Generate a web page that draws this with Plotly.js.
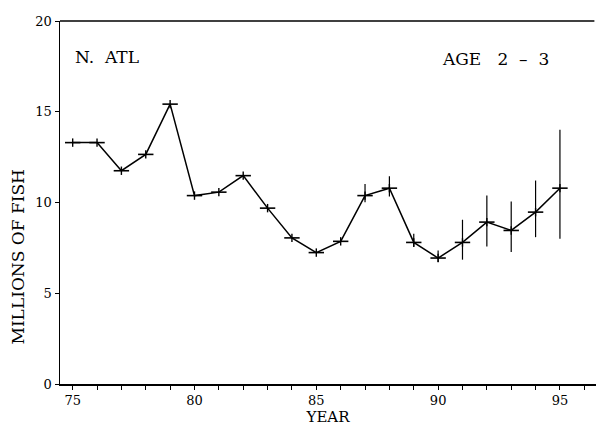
<!DOCTYPE html>
<html>
<head>
<meta charset="utf-8">
<script src="https://cdn.plot.ly/plotly-3.0.1.min.js"></script>
<style>
  html, body { margin: 0; padding: 0; background: #fff; overflow: hidden; }
  #chart { width: 596px; height: 428px; }
</style>
</head>
<body>
<div id="chart"></div>
<script>
// Data
const years = [75, 76, 77, 78, 79, 80, 81, 82, 83, 84, 85, 86, 87, 88, 89, 90, 91, 92, 93, 94, 95];
const fish  = [13.3, 13.3, 11.75, 12.65, 15.42, 10.38, 10.57, 11.48, 9.69, 8.05, 7.24, 7.86,
               10.38, 10.79, 7.8, 6.94, 7.8, 8.92, 8.46, 9.47, 10.79];
const errPlus  = [0, 0, 0, 0, 0, 0, 0, 0, 0, 0, 0, 0, 0.64, 0.66, 0.48, 0.42, 1.25, 1.46, 1.59, 1.74, 3.22];
const errMinus = [0, 0, 0, 0, 0, 0, 0, 0, 0, 0, 0, 0, 0.36, 0.46, 0.25, 0.22, 0.95, 1.34, 1.19, 1.38, 2.79];
const xTickVals = [75, 76, 77, 78, 79, 80, 81, 82, 83, 84, 85, 86, 87, 88, 89, 90, 91, 92, 93, 94, 95, 96];
const xTickText = ['75', '', '', '', '', '80', '', '', '', '', '85', '', '', '', '', '90', '', '', '', '', '95', ''];
const yTickVals = [0, 5, 10, 15, 20];

const FONT = 'DejaVu Serif, Liberation Serif, serif';

const mainTrace = {
  x: years,
  y: fish,
  type: 'scatter',
  mode: 'lines+markers',
  line: { color: '#000', width: 1.5 },
  marker: { symbol: 'line-ew-open', size: 11, color: '#000', line: { color: '#000', width: 1.6 } },
  error_y: {
    type: 'data',
    symmetric: false,
    array: errPlus,
    arrayminus: errMinus,
    color: '#000',
    thickness: 1.2,
    width: 0
  },
  hoverinfo: 'x+y'
};

const tickTrace = {
  x: years,
  y: fish,
  type: 'scatter',
  mode: 'markers',
  marker: { symbol: 'line-ns-open', size: 6, color: '#000', line: { color: '#000', width: 1.4 } },
  hoverinfo: 'skip'
};

const layout = {
  width: 596,
  height: 428,
  margin: { l: 60, r: 0, t: 21, b: 44, pad: 0 },
  paper_bgcolor: '#fff',
  plot_bgcolor: '#fff',
  showlegend: false,
  font: { family: FONT, color: '#000', size: 13 },
  xaxis: {
    range: [74.48, 96.48],
    tickmode: 'array',
    tickvals: xTickVals,
    ticktext: xTickText,
    ticks: 'outside',
    ticklen: 4,
    tickwidth: 1,
    tickcolor: '#000',
    showline: true,
    linecolor: '#000',
    linewidth: 1.5,
    showgrid: false,
    zeroline: false,
    tickfont: { family: FONT, size: 13, color: '#000' },
    title: { text: 'YEAR', font: { family: FONT, size: 15, color: '#000' }, standoff: 4 }
  },
  yaxis: {
    range: [0, 20],
    tickmode: 'array',
    tickvals: yTickVals,
    ticks: 'outside',
    ticklen: 4,
    tickwidth: 1,
    tickcolor: '#000',
    showline: true,
    linecolor: '#000',
    linewidth: 1.5,
    showgrid: false,
    zeroline: false,
    tickfont: { family: FONT, size: 13, color: '#000' }
  },
  shapes: [
    {
      type: 'line', xref: 'paper', yref: 'paper',
      x0: 0, x1: 0.997, y0: 1, y1: 1,
      line: { color: '#000', width: 1.5 }
    }
  ],
  annotations: [
    {
      text: 'MILLIONS OF FISH',
      xref: 'paper', yref: 'paper',
      x: -0.078, y: 0.349,
      xanchor: 'center', yanchor: 'middle',
      textangle: -90,
      showarrow: false,
      font: { family: FONT, size: 17, color: '#000' }
    },
    {
      text: 'N.  ATL',
      xref: 'paper', yref: 'paper',
      x: 0.024, y: 0.900,
      xanchor: 'left', yanchor: 'middle',
      showarrow: false,
      font: { family: FONT, size: 17, color: '#000' }
    },
    {
      text: 'AGE   2  \u2013  3',
      xref: 'paper', yref: 'paper',
      x: 0.916, y: 0.894,
      xanchor: 'right', yanchor: 'middle',
      showarrow: false,
      font: { family: FONT, size: 17, color: '#000' }
    }
  ]
};

Plotly.newPlot('chart', [mainTrace, tickTrace], layout, { displayModeBar: false, staticPlot: true });
</script>
</body>
</html>
